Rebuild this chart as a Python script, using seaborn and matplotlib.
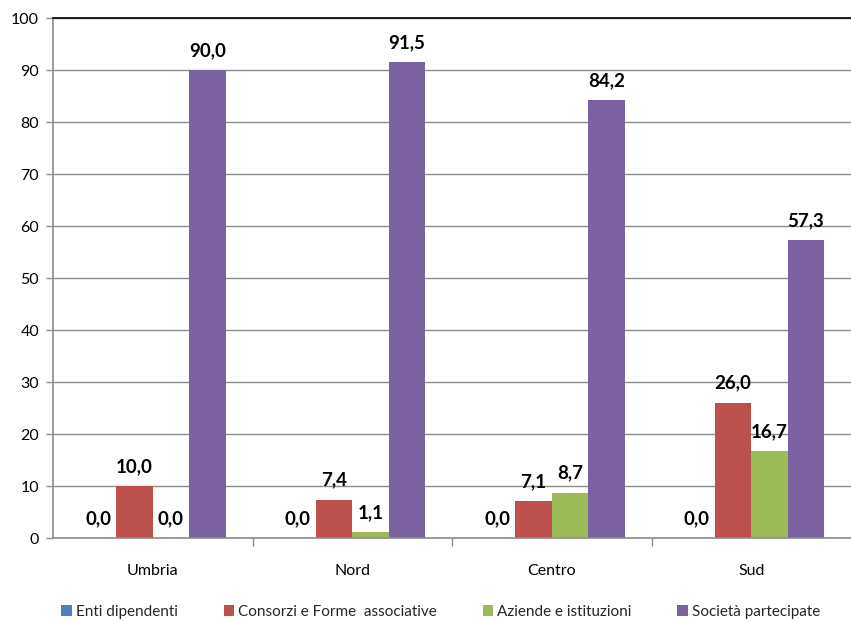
import matplotlib
matplotlib.use("Agg")
import matplotlib.pyplot as plt
from matplotlib.patches import Patch
from matplotlib.ticker import FixedLocator
import seaborn as sns
import pandas as pd

# Data
areas = ["Umbria", "Nord", "Centro", "Sud"]
series = ["Enti dipendenti", "Consorzi e Forme  associative", "Aziende e istituzioni", "Società partecipate"]
enti = [0.0, 0.0, 0.0, 0.0]
consorzi = [10.0, 7.4, 7.1, 26.0]
aziende = [0.0, 1.1, 8.7, 16.7]
societa = [90.0, 91.5, 84.2, 57.3]
colors = ["#4F81BD", "#BC504D", "#9BBB59", "#7B61A0"]

rows = []
for name, vals in zip(series, [enti, consorzi, aziende, societa]):
    for a, v in zip(areas, vals):
        rows.append({"area": a, "tipo": name, "valore": v})
df = pd.DataFrame(rows)

sns.set_theme(style="white")
plt.rcParams["font.family"] = ["Lato", "DejaVu Sans"]

fig = plt.figure(figsize=(8.51, 6.22), dpi=100)
ax = fig.add_axes([53 / 851, 1 - 538 / 622, 1 - 53 / 851, (538 - 18) / 622])

sns.barplot(data=df, x="area", y="valore", hue="tipo", hue_order=series,
            order=areas, palette=colors, width=0.73, saturation=1,
            edgecolor="none", linewidth=0, ax=ax, legend=False)

for cont in ax.containers:
    ax.bar_label(cont, labels=[f"{b.get_height():.1f}".replace(".", ",") for b in cont],
                 padding=8, fontsize=13.5, fontweight="bold", color="black")

ax.set_ylim(0, 100)
ax.set_xlim(-0.5, 3.5)
ax.set_yticks(range(0, 101, 10))
ax.yaxis.grid(True, color="#8c8c8c", linewidth=1)
ax.set_axisbelow(True)
ax.set_xlabel("")
ax.set_ylabel("")

for s in ["left", "bottom"]:
    ax.spines[s].set_color("#8c8c8c")
    ax.spines[s].set_linewidth(1.2)
ax.spines["right"].set_visible(False)
ax.spines["top"].set_color("black")
ax.spines["top"].set_linewidth(1.2)

ax.tick_params(axis="y", which="major", left=True, length=5, width=1, color="#8c8c8c",
               labelsize=11.5, pad=5, labelcolor="black")
ax.tick_params(axis="x", which="major", bottom=False, length=0, labelsize=11.5, pad=19,
               labelcolor="black")
ax.xaxis.set_minor_locator(FixedLocator([0.5, 1.5, 2.5]))
ax.tick_params(axis="x", which="minor", bottom=True, length=6, width=1, color="#8c8c8c")

handles = [Patch(facecolor=c, edgecolor="none") for c in colors]
fig.legend(handles, series, loc="center", bbox_to_anchor=(0.518, 1 - 612 / 622), ncol=4,
           frameon=False, fontsize=11, handlelength=0.7, handleheight=0.7,
           handletextpad=0.25, columnspacing=3.0)

fig.savefig("out.png", dpi=100)
